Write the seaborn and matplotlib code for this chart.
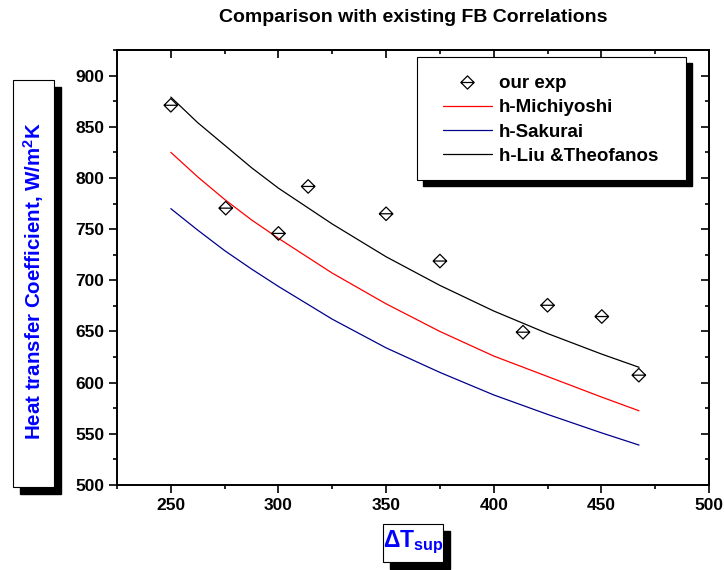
import numpy as np
import pandas as pd
import seaborn as sns
import matplotlib
matplotlib.use("Agg")
import matplotlib.pyplot as plt
from matplotlib.path import Path
from matplotlib.patches import Rectangle
from matplotlib.lines import Line2D
from matplotlib.ticker import MultipleLocator

# ---------------- data ----------------
exp_dT = [250, 275.5, 300, 313.8, 350, 375, 413.6, 425, 450.2, 467.4]
exp_h = [871, 770.5, 745.8, 791.7, 765, 718.8, 649.3, 675.6, 664.6, 607.3]

corr_dT = [250, 262.5, 275, 287.5, 300, 325, 350, 375, 400, 425, 450, 467.5]
h_michiyoshi = [825, 801, 779, 759, 741, 707, 677, 650, 626, 606, 586, 572.5]
h_sakurai = [770, 749, 729, 711, 694, 662, 634, 610, 588, 569, 551, 539]
h_liu = [879, 854, 832, 810, 790, 755, 723, 695, 670, 648, 628, 615]

labels = ["our exp", "h-Michiyoshi", "h-Sakurai", "h-Liu &Theofanos"]
title = "Comparison with existing FB Correlations"
xticks = [250, 300, 350, 400, 450, 500]
yticks = [500, 550, 600, 650, 700, 750, 800, 850, 900]

# ---------------- style ----------------
sns.set_style("ticks")
plt.rcParams["font.family"] = ["Liberation Sans", "DejaVu Sans"]
plt.rcParams["font.weight"] = "bold"
plt.rcParams["text.color"] = "black"
plt.rcParams["xtick.color"] = "black"
plt.rcParams["ytick.color"] = "black"
plt.rcParams["axes.labelcolor"] = "black"
plt.rcParams["mathtext.fontset"] = "custom"
plt.rcParams["mathtext.rm"] = "Liberation Sans:bold"
plt.rcParams["mathtext.bf"] = "Liberation Sans:bold"
plt.rcParams["mathtext.it"] = "Liberation Sans:bold"
plt.rcParams["mathtext.default"] = "bf"

W, H = 724, 570
fig = plt.figure(figsize=(W / 100, H / 100), dpi=100)
fig.patch.set_facecolor("white")
L, R, T, B = 117, 709, 50, 485
ax = fig.add_axes([L / W, 1 - B / H, (R - L) / W, (B - T) / H])
ax.set_facecolor("white")

diamond = Path(
    [(0, 1), (1, 0), (0, -1), (-1, 0), (0, 1), (-1, 0), (1, 0)],
    [Path.MOVETO, Path.LINETO, Path.LINETO, Path.LINETO, Path.CLOSEPOLY,
     Path.MOVETO, Path.LINETO],
)

c_red, c_blue, c_black = "#ff0000", "#00008b", "#000000"

sns.lineplot(x=corr_dT, y=h_michiyoshi, ax=ax, color=c_red, lw=0.9)
sns.lineplot(x=corr_dT, y=h_sakurai, ax=ax, color=c_blue, lw=0.9)
sns.lineplot(x=corr_dT, y=h_liu, ax=ax, color=c_black, lw=0.9)
sns.scatterplot(x=exp_dT, y=exp_h, ax=ax, marker=diamond, s=95,
                facecolor="none", edgecolor="black", linewidth=0.9, zorder=5)

ax.set_xlim(225, 500)
ax.set_ylim(500, 925)
ax.set_xticks(xticks)
ax.set_yticks(yticks)
ax.xaxis.set_minor_locator(MultipleLocator(25))
ax.yaxis.set_minor_locator(MultipleLocator(25))
ax.tick_params(which="major", direction="out", length=6, width=1.2,
               labelsize=12.5, pad=3, color="black", labelcolor="black")
ax.tick_params(which="minor", direction="out", length=3, width=1.2, color="black")
for lab in ax.get_xticklabels() + ax.get_yticklabels():
    lab.set_fontweight("bold")
for sp in ax.spines.values():
    sp.set_visible(True)
    sp.set_linewidth(1.4)
    sp.set_color("black")
ax.set_xlabel("")
ax.set_ylabel("")

# mirrored inward ticks on top/right
secx = ax.secondary_xaxis("top")
secx.set_xticks(xticks)
secx.xaxis.set_minor_locator(MultipleLocator(25))
secx.tick_params(which="major", direction="in", length=6, width=1.2, labeltop=False)
secx.tick_params(which="minor", direction="in", length=3, width=1.2)
secx.spines["top"].set_linewidth(1.4)
secy = ax.secondary_yaxis("right")
secy.set_yticks(yticks)
secy.yaxis.set_minor_locator(MultipleLocator(25))
secy.tick_params(which="major", direction="in", length=6, width=1.2, labelright=False)
secy.tick_params(which="minor", direction="in", length=3, width=1.2)
secy.spines["right"].set_linewidth(1.4)

fig.text((L + R) / 2 / W, 1 - 18 / H, title, ha="center", va="center",
         fontsize=14, fontweight="bold", color="black")


def box(x0, y0, x1, y1, off=7):
    fig.add_artist(Rectangle(((x0 + off) / W, 1 - (y1 + off) / H), (x1 - x0) / W,
                             (y1 - y0) / H, transform=fig.transFigure,
                             facecolor="black", edgecolor="black", zorder=3))
    fig.add_artist(Rectangle((x0 / W, 1 - y1 / H), (x1 - x0) / W, (y1 - y0) / H,
                             transform=fig.transFigure, facecolor="white",
                             edgecolor="black", lw=0.8, zorder=4))


# y label box
box(13, 80, 54, 487)
fig.text(34 / W, 1 - 281 / H, r"Heat transfer Coefficient, W/m$^{2}$K",
         rotation=90, ha="center", va="center", fontsize=14.8,
         fontweight="bold", color="#0000ff", zorder=6)

# x label box
box(383, 524, 443, 562)
fig.text(413 / W, 1 - 542 / H, r"$\Delta T_{sup}$", ha="center", va="center",
         fontsize=16.5, color="#0000ff", zorder=6)

# legend box
box(417, 57, 686, 180, off=6)
handles = [
    Line2D([], [], marker=diamond, linestyle="none", markersize=9.5,
           markerfacecolor="none", markeredgecolor="black", markeredgewidth=0.9),
    Line2D([], [], color=c_red, lw=0.9),
    Line2D([], [], color=c_blue, lw=0.9),
    Line2D([], [], color=c_black, lw=0.9),
]
leg = fig.legend(handles, labels, loc="upper left",
                 bbox_to_anchor=(443 / W, 1 - 75 / H), bbox_transform=fig.transFigure,
                 frameon=False, borderpad=0, borderaxespad=0, handlelength=2.6,
                 handletextpad=0.38, labelspacing=0.38,
                 prop={"size": 13.5, "weight": "bold"})
leg.set_zorder(6)
for t in leg.get_texts():
    t.set_color("black")

fig.savefig("out.png", dpi=100, facecolor="white")
